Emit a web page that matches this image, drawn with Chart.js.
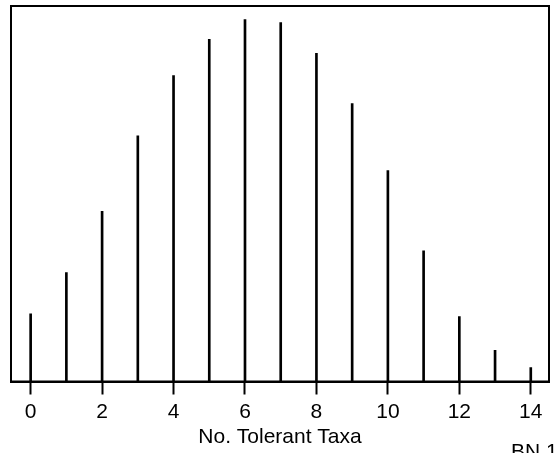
<!DOCTYPE html>
<html lang="en">
<head>
    <meta charset="UTF-8">
    <title>No. Tolerant Taxa</title>
    <style>
        body {
            margin: 0;
            background: #fff;
            overflow: hidden;
        }
        .wrap {
            position: relative;
            width: 556px;
            height: 453px;
        }
        .tag {
            position: absolute;
            left: 511px;
            top: 439px;
            font-family: "Liberation Sans", Arial, sans-serif;
            font-size: 21px;
            color: #000;
            white-space: nowrap;
        }
    </style>
    <script src="https://cdn.jsdelivr.net/npm/chart.js"></script>
</head>
<body>
    <div class="wrap">
        <canvas id="chart" width="556" height="453"></canvas>
        <div class="tag">BN 1</div>
    </div>

    <script>
        // number of tolerant taxa and relative frequency (y axis unlabeled in source)
        const taxa = [0, 1, 2, 3, 4, 5, 6, 7, 8, 9, 10, 11, 12, 13, 14];
        const freq = [18.0, 29.0, 45.3, 65.4, 81.5, 91.1, 96.4, 95.6, 87.4, 74.0, 56.2, 34.8, 17.3, 8.3, 3.7];
        const xTicks = [0, 2, 4, 6, 8, 10, 12, 14];

        const frame = {
            id: 'frame',
            afterDraw(chart) {
                const a = chart.chartArea;
                const ctx = chart.ctx;
                ctx.save();
                ctx.strokeStyle = '#000';
                ctx.lineWidth = 2;
                ctx.strokeRect(a.left, a.top, a.right - a.left, a.bottom - a.top);
                ctx.restore();
            }
        };

        const font = { family: '"Liberation Sans", Arial, sans-serif', size: 21 };

        new Chart(document.getElementById('chart'), {
            type: 'bar',
            data: {
                datasets: [{
                    data: taxa.map((t, i) => ({ x: t, y: freq[i] })),
                    backgroundColor: '#000',
                    borderWidth: 0,
                    barThickness: 2
                }]
            },
            options: {
                responsive: false,
                animation: false,
                layout: { padding: { left: 11, right: 7, top: 6, bottom: 0 } },
                plugins: {
                    legend: { display: false },
                    tooltip: { enabled: false }
                },
                scales: {
                    x: {
                        type: 'linear',
                        offset: false,
                        min: -0.55,
                        max: 14.51,
                        afterBuildTicks: scale => {
                            scale.ticks = xTicks.map(v => ({ value: v }));
                        },
                        afterFit: scale => { scale.height = 71.5; },
                        grid: {
                            offset: false,
                            drawOnChartArea: false,
                            tickLength: 13,
                            tickWidth: 2,
                            color: '#000'
                        },
                        border: { color: '#000', width: 2 },
                        ticks: {
                            color: '#000',
                            padding: 5,
                            maxRotation: 0,
                            font: font
                        },
                        title: {
                            display: true,
                            text: 'No. Tolerant Taxa',
                            color: '#000',
                            padding: { top: 0, bottom: 3 },
                            font: font
                        }
                    },
                    y: {
                        display: false,
                        min: 0,
                        max: 100
                    }
                }
            },
            plugins: [frame]
        });
    </script>
</body>
</html>
